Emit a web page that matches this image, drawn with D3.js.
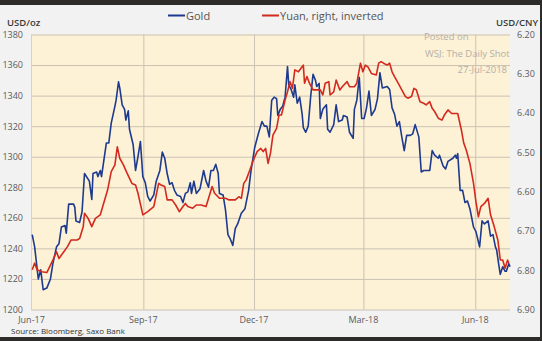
<!DOCTYPE html>
<html><head><meta charset="utf-8">
<script src="https://cdn.jsdelivr.net/npm/d3@7"></script>
<style>
html,body{margin:0;padding:0;background:#f2f2f2;}
svg{display:block;}
text{font-family:"Open Sans","Noto Sans",sans-serif;}
</style></head>
<body>
<script>
// ---- data (days since 2017-06-01, value) ----
const startDate = "2017-06-01";
const endDate = "2018-06-30";
const goldDays = [1,3,6,8,10,13,16,18,21,23,25,28,29,31,35,36,37,40,42,44,48,50,51,54,55,57,58,62,64,66,69,70,72,73,75,77,78,80,81,84,86,88,90,92,94,96,98,101,103,106,108,110,112,114,116,118,120,123,125,127,129,131,132,134,136,139,142,144,146,148,150,152,154,155,158,160,162,164,166,168,170,173,176,179,181,184,187,190,192,194,196,198,200,202,203,205,207,209,211,212,214,216,217,219,221,223,224,226,228,230,232,234,235,237,238,240,243,244,246,249,251,253,256,257,260,262,265,266,268,270,272,274,276,278,280,283,285,287,289,293,295,297,299,301,303,305,307,309,312,314,316,319,321,323,325,328,330,332,335,336,339,341,343,347,349,350,351,353,355,357,359,361,364,366,369,371,373,376,378,380,382,383,385,386,388,390,391,393,394];
const goldValues = [1249,1241,1220,1226,1213,1214,1220,1230,1241,1243,1254,1255,1250,1269,1269,1267,1258,1257,1264,1289,1284,1272,1289,1290,1287,1291,1287,1309,1309,1322,1333,1337,1349,1345,1334,1331,1324,1330,1318,1308,1291,1300,1310,1287,1283,1274,1271,1275,1284,1291,1303,1299,1289,1282,1283,1278,1275,1274,1270,1276,1277,1283,1276,1284,1276,1279,1291,1284,1280,1291,1291,1295,1289,1276,1275,1265,1249,1246,1242,1253,1256,1263,1266,1278,1291,1306,1315,1323,1320,1320,1313,1337,1339,1338,1327,1331,1333,1339,1359,1347,1344,1339,1347,1335,1339,1328,1319,1316,1320,1339,1354,1350,1346,1348,1325,1331,1334,1318,1316,1321,1334,1323,1324,1327,1326,1316,1312,1331,1337,1352,1325,1325,1332,1343,1327,1331,1338,1355,1345,1346,1344,1332,1328,1320,1323,1313,1304,1314,1314,1315,1321,1313,1290,1291,1291,1291,1304,1301,1299,1301,1294,1292,1297,1299,1301,1299,1302,1278,1278,1270,1271,1266,1254,1251,1241,1258,1256,1258,1248,1249,1241,1239,1228,1223,1228,1225,1225,1230,1228];
const yuanDays = [1,3,5,9,13,16,18,21,23,27,30,33,38,40,43,44,47,50,53,57,59,63,66,69,71,73,76,79,83,86,88,92,96,101,105,107,110,112,116,119,122,125,127,129,133,136,140,144,149,151,155,160,163,168,171,173,175,177,180,183,186,189,191,193,195,197,199,202,204,206,209,211,213,215,217,220,223,224,225,227,229,232,235,238,240,242,245,246,249,251,254,256,260,262,266,268,271,273,275,277,280,284,286,288,290,293,295,297,299,302,305,308,310,313,315,317,320,323,325,328,330,332,335,338,340,343,346,349,351,354,356,358,361,364,366,368,370,373,376,378,381,384,386,388,390,392,393];
const yuanValues = [6.799,6.782,6.799,6.804,6.806,6.787,6.774,6.753,6.770,6.753,6.740,6.723,6.723,6.719,6.689,6.655,6.668,6.689,6.668,6.659,6.638,6.596,6.549,6.532,6.486,6.515,6.532,6.553,6.579,6.583,6.604,6.659,6.651,6.638,6.579,6.583,6.587,6.621,6.621,6.634,6.651,6.638,6.630,6.638,6.642,6.634,6.634,6.638,6.587,6.604,6.617,6.617,6.621,6.621,6.613,6.617,6.579,6.570,6.545,6.519,6.498,6.490,6.498,6.490,6.528,6.502,6.456,6.439,6.405,6.405,6.367,6.346,6.320,6.337,6.290,6.295,6.282,6.278,6.324,6.307,6.324,6.341,6.341,6.341,6.354,6.324,6.320,6.354,6.346,6.316,6.341,6.333,6.320,6.333,6.333,6.324,6.273,6.295,6.278,6.282,6.299,6.303,6.273,6.269,6.273,6.278,6.273,6.295,6.307,6.324,6.341,6.358,6.362,6.358,6.337,6.341,6.371,6.375,6.379,6.371,6.388,6.396,6.413,6.418,6.405,6.392,6.401,6.401,6.401,6.443,6.477,6.494,6.528,6.579,6.626,6.664,6.638,6.630,6.617,6.659,6.689,6.723,6.774,6.774,6.795,6.774,6.782];
const goldTicks = [1200,1220,1240,1260,1280,1300,1320,1340,1360,1380];
const yuanTicks = [6.20,6.30,6.40,6.50,6.60,6.70,6.80,6.90];
const monthTicks = ["2017-06-01","2017-09-01","2017-12-01","2018-03-01","2018-06-01"];
const seriesNames = ["Gold","Yuan, right, inverted"];
const leftUnit = "USD/oz", rightUnit = "USD/CNY";
const sourceText = "Source: Bloomberg, Saxo Bank";
const watermark = ["Posted on","WSJ: The Daily Shot","27-Jul-2018"];

// ---- layout ----
const W = 542, H = 341;
const L = 31, R = 510, T = 34.5, B = 309.5;
const parse = d3.timeParse("%Y-%m-%d");
const t0 = parse(startDate);

const svg = d3.select("body").append("svg").attr("width", W).attr("height", H);
svg.append("rect").attr("width", W).attr("height", H).attr("fill", "#f2f2f2");
// dark frame of the screenshot
svg.append("rect").attr("x",0).attr("y",0).attr("width",W).attr("height",5).attr("fill","#2e2c2a");
svg.append("rect").attr("x",540).attr("y",0).attr("width",2).attr("height",H).attr("fill","#2e2c2a");
svg.append("rect").attr("x",0).attr("y",337).attr("width",W).attr("height",4).attr("fill","#2e2c2a");

const x = d3.scaleTime().domain([t0, parse(endDate)]).range([L, R]);
const yL = d3.scaleLinear().domain([1200,1380]).range([B, T]);
const yR = d3.scaleLinear().domain([6.90,6.20]).range([B, T]);

svg.append("rect").attr("x", L).attr("y", T).attr("width", R-L).attr("height", B-T).attr("fill", "#fdf1d6");

// gridlines
const gridH = svg.append("g").attr("transform", `translate(${L},0)`)
  .call(d3.axisLeft(yL).tickValues(goldTicks).tickSize(-(R-L)).tickFormat(""));
gridH.select(".domain").remove();
gridH.selectAll("line").attr("stroke", "#cbc3b3").attr("stroke-width", 1);
const gridV = svg.append("g").attr("transform", `translate(0,${B})`)
  .call(d3.axisBottom(x).tickValues(monthTicks.map(parse).slice(1)).tickSize(-(B-T)).tickFormat(""));
gridV.select(".domain").remove();
gridV.selectAll("line").attr("stroke", "#cbc3b3").attr("stroke-width", 1).attr("transform","translate(0.5,0)");
svg.append("line").attr("x1",L+0.5).attr("x2",L+0.5).attr("y1",T).attr("y2",B).attr("stroke","#d8d0c0");

// axes labels
function styleAxis(g){
  g.select(".domain").remove();
  g.selectAll("line").remove();
  g.selectAll("text").attr("fill","#5a5a5a").attr("font-size","9px")
    .style("font-family",'"Open Sans","Noto Sans",sans-serif');
}
svg.append("g").attr("transform", `translate(${L},0)`)
  .call(d3.axisLeft(yL).tickValues(goldTicks).tickSize(0).tickPadding(8).tickFormat(d3.format("d"))).call(styleAxis);
svg.append("g").attr("transform", `translate(${R},0)`)
  .call(d3.axisRight(yR).tickValues(yuanTicks).tickSize(0).tickPadding(7).tickFormat(d3.format(".2f"))).call(styleAxis);
svg.append("g").attr("transform", `translate(0,${B})`)
  .call(d3.axisBottom(x).tickValues(monthTicks.map(parse)).tickSize(0).tickPadding(7).tickFormat(d3.timeFormat("%b-%y"))).call(styleAxis);

// watermark
svg.append("text").attr("x",424).attr("y",40).attr("font-size","9.5px").attr("fill","#b4b0a8").text(watermark[0]);
svg.append("text").attr("x",425).attr("y",57).attr("font-size","9.5px").attr("fill","#b4b0a8").text(watermark[1]);
svg.append("text").attr("x",507).attr("y",73).attr("text-anchor","end").attr("font-size","9.5px").attr("fill","#b4b0a8").text(watermark[2]);

// lines
const goldData = goldDays.map((d,i)=>({date:d3.timeDay.offset(t0,d), v:goldValues[i]}));
const yuanData = yuanDays.map((d,i)=>({date:d3.timeDay.offset(t0,d), v:yuanValues[i]}));
svg.append("path").datum(goldData).attr("fill","none").attr("stroke","#1d3a8f").attr("stroke-width",1.6)
  .attr("stroke-linejoin","round").attr("d", d3.line().x(d=>x(d.date)).y(d=>yL(d.v)));
svg.append("path").datum(yuanData).attr("fill","none").attr("stroke","#d32a1f").attr("stroke-width",1.6)
  .attr("stroke-linejoin","round").attr("d", d3.line().x(d=>x(d.date)).y(d=>yR(d.v)));

// units
svg.append("text").attr("x",7).attr("y",26).attr("font-size","9.5px").attr("font-weight","600").attr("fill","#3a3a3a").text(leftUnit);
svg.append("text").attr("x",538).attr("y",26).attr("text-anchor","end").attr("font-size","9.5px").attr("font-weight","600").attr("fill","#3a3a3a").text(rightUnit);

// legend
const legendColors = ["#1d3a8f","#d32a1f"];
const legendX = [168, 262];
seriesNames.forEach((n,i)=>{
  svg.append("line").attr("x1",legendX[i]).attr("x2",legendX[i]+17).attr("y1",15.5).attr("y2",15.5)
    .attr("stroke",legendColors[i]).attr("stroke-width",2);
  svg.append("text").attr("x",legendX[i]+18).attr("y",19.5).attr("font-size","11px").attr("fill","#555").text(n);
});

// source
svg.append("text").attr("x",11).attr("y",334).attr("font-size","8px").attr("fill","#333").text(sourceText);
</script>
</body></html>
